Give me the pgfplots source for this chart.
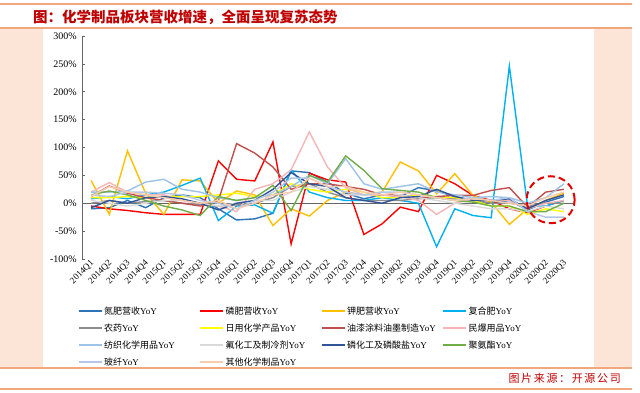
\documentclass[border=0pt]{standalone}
\usepackage{pgfplots}
\usepackage{pgfplotstable}
\pgfplotsset{compat=1.18}
\usepackage{fontspec}
\setmainfont{Liberation Serif}
\newfontfamily\cjk{Noto Sans CJK SC}
\newfontfamily\cjkls[LetterSpace=15]{Noto Sans CJK SC}
\definecolor{cdan}{HTML}{2E75B6}
\definecolor{clin}{HTML}{FF0000}
\definecolor{cjia}{HTML}{FFC000}
\definecolor{cfuhe}{HTML}{00B0F0}
\definecolor{cnong}{HTML}{8C8C8C}
\definecolor{cri}{HTML}{FFFF00}
\definecolor{cyou}{HTML}{C0504D}
\definecolor{cmin}{HTML}{F4B6B6}
\definecolor{cfang}{HTML}{9DC3E6}
\definecolor{cfu}{HTML}{D9D9D9}
\definecolor{clinh}{HTML}{2F5597}
\definecolor{cju}{HTML}{70AD47}
\definecolor{cbo}{HTML}{B4C7E7}
\definecolor{cqi}{HTML}{F8CBAD}
\definecolor{orline}{HTML}{F2A77C}
\definecolor{peach}{HTML}{FCE4D6}
\definecolor{titlered}{HTML}{C00000}
\pgfplotstableread{
i dan lin jia fuhe nong ri you min fang fu linh ju bo qi
0 -10 -5 41 8 0 10 12 20 20 5 -8 15 15 12
1 -8 -10 -20 12 5 10 31 37 20 0 5 22 12 30
2 5 -13 94 8 0 12 18 20 22 -5 0 15 20 20
3 -8 -17 18 15 3 10 10 15 38 0 10 5 20 15
4 10 -20 -20 20 5 12 5 15 43 5 12 -5 18 10
5 15 -20 42 32 0 12 0 5 25 5 8 -12 15 5
6 10 -20 40 45 -2 12 -5 0 20 0 0 -22 5 0
7 -10 76 0 -31 -5 15 5 -5 10 -5 -12 12 0 5
8 -30 43 22 -5 -3 18 107 -15 5 0 0 5 -10 -10
9 -28 40 15 -3 0 12 90 25 10 5 5 10 5 0
10 -18 110 -40 -18 10 15 65 35 15 5 25 32 20 15
11 58 -73 -10 60 30 35 25 60 30 20 55 -13 45 20
12 55 54 -23 20 35 25 35 128 50 30 35 50 45 45
13 38 42 5 10 20 20 35 65 35 25 30 38 30 30
14 18 38 20 5 10 25 30 28 80 15 10 85 20 30
15 8 -56 15 5 5 20 25 15 35 15 5 59 15 20
16 15 -37 20 10 5 10 15 15 25 20 0 26 20 15
17 12 -7 74 5 5 10 15 12 30 15 10 23 20 20
18 28 -15 58 0 8 15 10 5 35 10 12 20 15 15
19 22 50 17 -78 10 12 12 -20 20 5 25 10 10 10
20 12 35 53 -10 8 10 14 0 15 0 12 5 5 5
21 5 14 14 -22 5 5 14 8 10 -5 5 2 10 8
22 0 5 2 -26 0 -5 23 5 12 -10 5 -5 5 5
23 5 -10 -38 246 0 -5 28 5 10 -10 8 -5 10 0
24 -12 -17 -10 -5 -5 -20 -7 -10 0 -15 -10 -15 -15 -5
25 2 -5 5 -5 0 -10 20 0 10 -5 5 -15 -25 10
26 12 5 18 5 0 -15 25 5 35 -10 15 0 -25 20
}\datatable
\begin{document}
\begin{tikzpicture}[x=1pt,y=1pt]
\useasboundingbox (0,0) rectangle (640,393);
\fill[white] (0,0) rectangle (640,393);
\fill[peach] (0,25) rectangle (43,364);
\fill[peach] (594,25) rectangle (632,364);
\draw[orline, line width=2pt] (0,389) -- (632,389);
\draw[orline, line width=1.5pt] (0,365) -- (632,365);
\draw[orline, line width=1.5pt] (0,25) -- (632,25);
\draw[orline, line width=1.5pt] (0,4) -- (632,4);
\node[anchor=west, text=titlered, font=\cjk\bfseries\fontsize{14.5}{16}\selectfont, inner sep=0pt] at (33,376) {图：化学制品板块营收增速，全面呈现复苏态势};
\node[anchor=east, text=titlered, font=\cjkls\fontsize{11}{12}\selectfont, inner sep=0pt] at (621,15) {图片来源：开源公司};
\begin{axis}[
  at={(82pt,134pt)}, anchor=south west,
  scale only axis, width=491pt, height=223pt,
  xmin=-0.5, xmax=26.5, ymin=-100, ymax=300,
  separate axis lines,
  axis x line*=bottom,
  x axis line style={draw=none},
  axis y line*=left,
  y axis line style={draw=gray!80!black, line width=0.6pt},
  ytick={-100,-50,0,50,100,150,200,250,300},
  yticklabel={\pgfmathprintnumber{\tick}\%},
  /pgf/number format/assume math mode=true,
  yticklabel style={font=\fontsize{10}{11}\selectfont, inner sep=1pt, xshift=-4pt},
  tick align=inside, major tick length=3pt,
  ytick style={draw=gray!80!black, line width=0.6pt},
  xtick style={draw=none},
  xtick={0,...,26},
  xticklabels={2014Q1,2014Q2,2014Q3,2014Q4,2015Q1,2015Q2,2015Q3,2015Q4,2016Q1,2016Q2,2016Q3,2016Q4,2017Q1,2017Q2,2017Q3,2017Q4,2018Q1,2018Q2,2018Q3,2018Q4,2019Q1,2019Q2,2019Q3,2019Q4,2020Q1,2020Q2,2020Q3},
  xticklabel style={rotate=45, anchor=east, inner sep=1pt, font=\fontsize{9}{10}\selectfont, yshift=-3pt},
  clip=false,
  legend columns=4,
  legend image code/.code={\draw[#1, line width=1.5pt] (0pt,0pt) -- (23pt,0pt);},
  legend style={at={(-0.0143,-0.186)}, anchor=north west, draw=none, fill=none,
    font=\fontsize{9}{10}\selectfont, row sep=0pt, column sep=0pt,
    nodes={text width=94pt, minimum height=17pt, inner sep=1.5pt, anchor=west}},
  legend cell align=left,
  every axis plot/.append style={line width=1.4pt, mark=none},
]
\draw[gray!80!black, line width=0.8pt] (axis cs:-0.5,0) -- (axis cs:26.5,0);
\addplot[cdan] table[x=i,y=dan]{\datatable};
\addlegendentry{{\cjk 氮肥营收}YoY}
\addplot[clin] table[x=i,y=lin]{\datatable};
\addlegendentry{{\cjk 磷肥营收}YoY}
\addplot[cjia] table[x=i,y=jia]{\datatable};
\addlegendentry{{\cjk 钾肥营收}YoY}
\addplot[cfuhe] table[x=i,y=fuhe]{\datatable};
\addlegendentry{{\cjk 复合肥}YoY}
\addplot[cnong] table[x=i,y=nong]{\datatable};
\addlegendentry{{\cjk 农药}YoY}
\addplot[cri] table[x=i,y=ri]{\datatable};
\addlegendentry{{\cjk 日用化学产品}YoY}
\addplot[cyou] table[x=i,y=you]{\datatable};
\addlegendentry{{\cjk 油漆涂料油墨制造}YoY}
\addplot[cmin] table[x=i,y=min]{\datatable};
\addlegendentry{{\cjk 民爆用品}YoY}
\addplot[cfang] table[x=i,y=fang]{\datatable};
\addlegendentry{{\cjk 纺织化学用品}YoY}
\addplot[cfu] table[x=i,y=fu]{\datatable};
\addlegendentry{{\cjk 氟化工及制冷剂}YoY}
\addplot[clinh] table[x=i,y=linh]{\datatable};
\addlegendentry{{\cjk 磷化工及磷酸盐}YoY}
\addplot[cju] table[x=i,y=ju]{\datatable};
\addlegendentry{{\cjk 聚氨酯}YoY}
\addplot[cbo] table[x=i,y=bo]{\datatable};
\addlegendentry{{\cjk 玻纤}YoY}
\addplot[cqi] table[x=i,y=qi]{\datatable};
\addlegendentry{{\cjk 其他化学制品}YoY}
\draw[red!90!black, line width=2pt, dash pattern=on 7pt off 4pt] (axis cs:25.27,6.3) ellipse [x radius=24pt, y radius=23.5pt];
\end{axis}
\end{tikzpicture}
\end{document}
